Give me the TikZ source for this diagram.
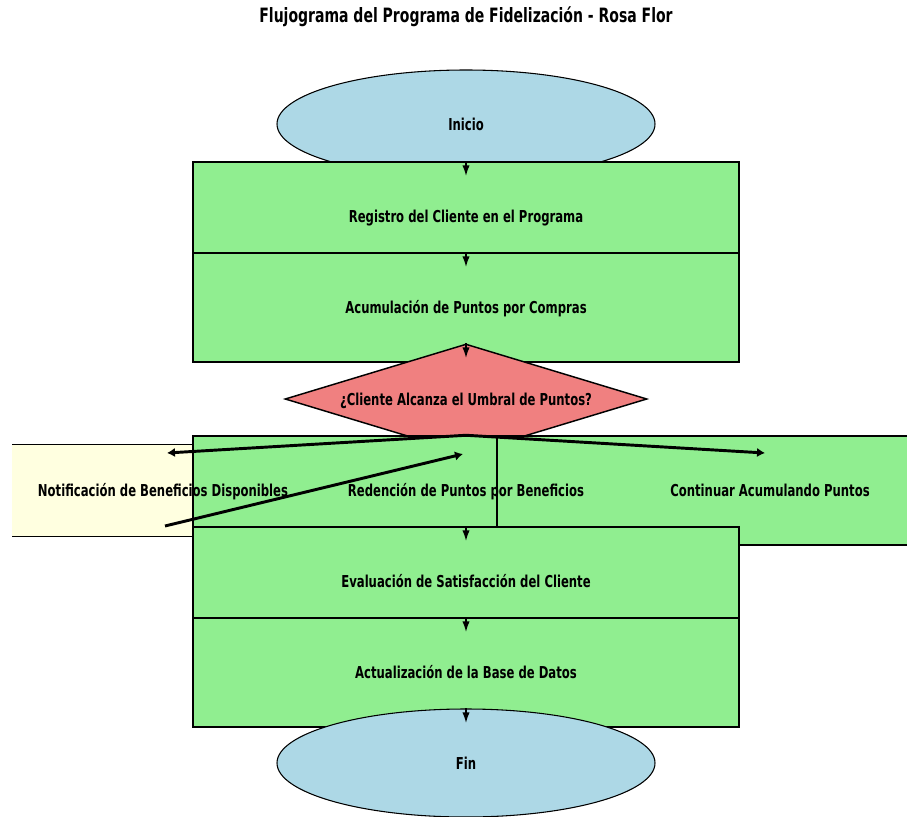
\documentclass[tikz,border=0pt]{standalone}
\usepackage{fontspec}
\setmainfont{DejaVu Sans}[FakeStretch=0.71]
\usetikzlibrary{shapes.geometric,arrows.meta}

\definecolor{termfill}{HTML}{ADD8E6}
\definecolor{stepfill}{HTML}{90EE90}
\definecolor{askfill}{HTML}{F08080}
\definecolor{notefill}{HTML}{FFFFE0}

\tikzset{
  terminal/.style={ellipse, draw=black, line width=0.8pt, fill=termfill,
    minimum width=283.5pt, minimum height=81pt, inner sep=0pt},
  stepbox/.style={rectangle, draw=black, line width=1.1pt, fill=stepfill,
    minimum width=409.5pt, minimum height=81.75pt, inner sep=0pt},
  askbox/.style={diamond, aspect=3.3, draw=black, line width=1.1pt, fill=askfill,
    minimum width=271.5pt, minimum height=82.5pt, inner sep=0pt},
  notebox/.style={rectangle, draw=none, fill=notefill,
    minimum width=409.5pt, minimum height=68.25pt, inner sep=0pt},
  lbl/.style={font=\bfseries\fontsize{12.3}{14}\selectfont, inner sep=0pt,
    text height=0.73em, text depth=0pt, yshift=-1.2pt},
  ttl/.style={font=\bfseries\fontsize{14.8}{18}\selectfont, inner sep=0pt,
    text height=0.73em, text depth=0pt},
  flow/.style={line width=1.1pt, -{Latex[length=8pt,width=5.5pt]}},
  branch/.style={line width=2.2pt, -{Latex[length=6pt,width=7pt]}},
}

\begin{document}
\begin{tikzpicture}[x=0.75pt,y=-0.75pt]
\useasboundingbox (0,0) rectangle (907,817);

% title
\node[ttl] (title) at (466,18) {Flujograma del Programa de Fidelización - Rosa Flor};

% shapes, back to front
\begin{scope}
  \clip (12,0) rectangle (907,817);
  \node[terminal] (inicio) at (466,124) {};
  \node[stepbox]  (reg)    at (466,216.5) {};
  \node[stepbox]  (acu)    at (466,307.5) {};
  \node[askbox]   (ask)    at (466,399) {};
  \node[notebox]  (noti)   at (163,490.5) {};
  \draw[line width=1.1pt] (noti.north west) -- (noti.north east);
  \draw[line width=1.1pt] (noti.south west) -- (noti.south east);
  \node[stepbox]  (red)    at (466,490.5) {};
  \node[stepbox]  (cont)   at (770,490.5) {};
  \node[stepbox]  (eval)   at (466,581.5) {};
  \node[stepbox]  (act)    at (466,672.5) {};
  \node[terminal] (fin)    at (466,763) {};
\end{scope}

% labels on top of every shape
\node[lbl] at (inicio) {Inicio};
\node[lbl] at (reg.center) {Registro del Cliente en el Programa};
\node[lbl] at (acu.center) {Acumulación de Puntos por Compras};
\node[lbl] at (ask.center) {¿Cliente Alcanza el Umbral de Puntos?};
\node[lbl] at (noti.center) {Notificación de Beneficios Disponibles};
\node[lbl] at (red.center) {Redención de Puntos por Beneficios};
\node[lbl] at (cont.center) {Continuar Acumulando Puntos};
\node[lbl] at (eval.center) {Evaluación de Satisfacción del Cliente};
\node[lbl] at (act.center) {Actualización de la Base de Datos};
\node[lbl] at (fin) {Fin};

% arrow tips
\coordinate (reg-in)  at (466,176);
\coordinate (acu-in)  at (466,267);
\coordinate (ask-in)  at (466,358);
\coordinate (eval-in) at (466,541);
\coordinate (act-in)  at (466,632);
\coordinate (fin-in)  at (466,723);
\coordinate (noti-in) at (167,453);
\coordinate (cont-in) at (765,453);
\coordinate (noti-out) at (165,526);
\coordinate (red-in)  at (463,454);

% main flow
\draw[flow] (reg.north) -- (reg-in);
\draw[flow] (acu.north) -- (acu-in);
\draw[flow] (ask.north) -- (ask-in);
\draw[flow] (eval.north) -- (eval-in);
\draw[flow] (act.north) -- (act-in);
\draw[flow] (fin.north) -- (fin-in);

% decision branches
\draw[branch] (red.north) -- (noti-in);
\draw[branch] (red.north) -- (cont-in);
\draw[branch] (noti-out) -- (red-in);
\end{tikzpicture}
\end{document}
